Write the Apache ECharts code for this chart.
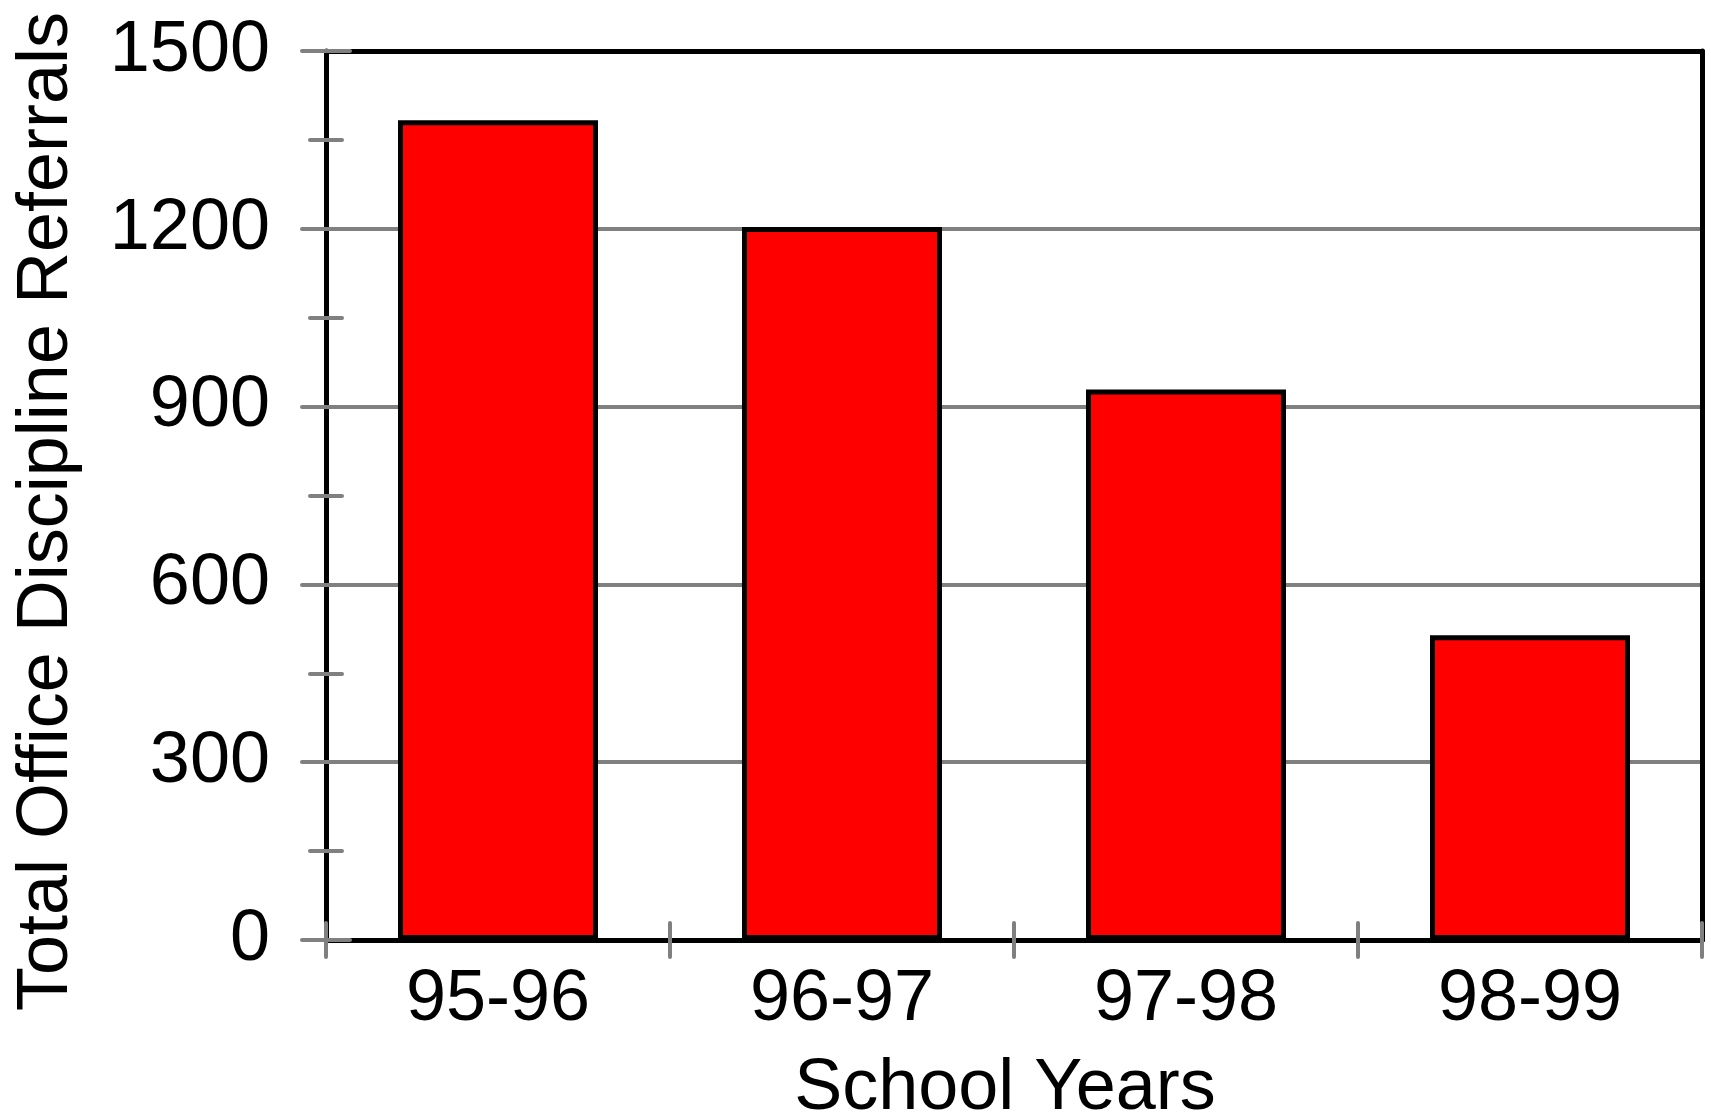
<!DOCTYPE html>
<html>
<head>
<meta charset="utf-8">
<title>Total Office Discipline Referrals</title>
<script src="https://cdn.jsdelivr.net/npm/echarts@6/dist/echarts.min.js"></script>
<style>
  html, body { margin: 0; padding: 0; background: #ffffff; overflow: hidden; }
  #chart { width: 1711px; height: 1119px; }
</style>
</head>
<body>
<div id="chart"></div>
<script>
// School years on the horizontal axis
const schoolYears = ['95-96', '96-97', '97-98', '98-99'];
// Total office discipline referrals per year
const referrals = [1383, 1203, 929, 514];
// Value axis range and step
const yMin = 0;
const yMax = 1500;
const yStep = 300;

const FONT = '"Liberation Sans", Arial, Helvetica, sans-serif';
const BLACK = '#000000';
const GRAY = '#808080';

const chart = echarts.init(document.getElementById('chart'), null, { renderer: 'canvas' });

const hidden = { show: false };
const blackLine = { show: true, onZero: false, lineStyle: { color: BLACK, width: 5 } };
const noLine = { show: false, onZero: false };
const tickGray = (len, inside) => ({
  show: true,
  inside: inside,
  length: len,
  alignWithLabel: false,
  lineStyle: { color: GRAY, width: 4, cap: 'round' }
});
const minorGray = {
  show: true,
  splitNumber: 2,
  length: 16,
  lineStyle: { color: GRAY, width: 4, cap: 'round' }
};
const valueRange = { type: 'value', min: yMin, max: yMax, interval: yStep };

chart.setOption({
  animation: false,
  backgroundColor: '#ffffff',
  grid: {
    left: 326, right: 9, top: 51, bottom: 179,
    containLabel: false,
    outerBoundsMode: 'none'
  },
  xAxis: [
    { // bottom axis line, year labels and title
      type: 'category', data: schoolYears, position: 'bottom', z: 3,
      axisLine: blackLine,
      axisTick: hidden,
      axisLabel: { show: true, color: BLACK, fontSize: 72, fontFamily: FONT, margin: 24 },
      splitLine: hidden,
      name: 'School Years', nameLocation: 'middle', nameGap: 113,
      nameTextStyle: { color: BLACK, fontSize: 72, fontFamily: FONT, padding: [0, 18, 0, 0] }
    },
    { // ticks below the axis
      type: 'category', data: schoolYears, position: 'bottom', z: 4,
      axisLine: noLine, axisLabel: hidden, splitLine: hidden,
      axisTick: tickGray(17, false)
    },
    { // ticks above the axis
      type: 'category', data: schoolYears, position: 'bottom', z: 4,
      axisLine: noLine, axisLabel: hidden, splitLine: hidden,
      axisTick: tickGray(17, true)
    },
    { // top frame line
      type: 'category', data: schoolYears, position: 'top', z: 3,
      axisLine: blackLine,
      axisTick: hidden, axisLabel: hidden, splitLine: hidden
    }
  ],
  yAxis: [
    Object.assign({}, valueRange, { // gridlines
      position: 'left', z: 0,
      axisLine: noLine, axisTick: hidden, axisLabel: hidden,
      splitLine: { show: true, lineStyle: { color: GRAY, width: 4 } }
    }),
    Object.assign({}, valueRange, { // left axis line, labels and title
      position: 'left', z: 3,
      axisLine: blackLine,
      axisTick: hidden, splitLine: hidden,
      axisLabel: {
        show: true, color: BLACK, fontSize: 72, fontFamily: FONT, margin: 56,
        formatter: (v) => String(v)
      },
      name: 'Total Office Discipline Referrals', nameLocation: 'middle', nameGap: 243,
      nameTextStyle: { color: BLACK, fontSize: 72, fontFamily: FONT, padding: [0, 32, 0, 0] }
    }),
    Object.assign({}, valueRange, { // ticks left of the axis
      position: 'left', z: 4,
      axisLine: noLine, axisLabel: hidden, splitLine: hidden,
      axisTick: tickGray(24, false), minorTick: minorGray
    }),
    Object.assign({}, valueRange, { // ticks right of the axis
      position: 'left', z: 4,
      axisLine: noLine, axisLabel: hidden, splitLine: hidden,
      axisTick: tickGray(24, true), minorTick: minorGray
    }),
    Object.assign({}, valueRange, { // right frame line
      position: 'right', z: 3,
      axisLine: blackLine,
      axisTick: hidden, axisLabel: hidden, splitLine: hidden
    })
  ],
  series: [{
    type: 'bar',
    name: 'Total Office Discipline Referrals',
    xAxisIndex: 0,
    yAxisIndex: 0,
    data: referrals,
    barWidth: 200,
    z: 2,
    itemStyle: { color: '#ff0000', borderColor: BLACK, borderWidth: 5 }
  }]
});
</script>
</body>
</html>
